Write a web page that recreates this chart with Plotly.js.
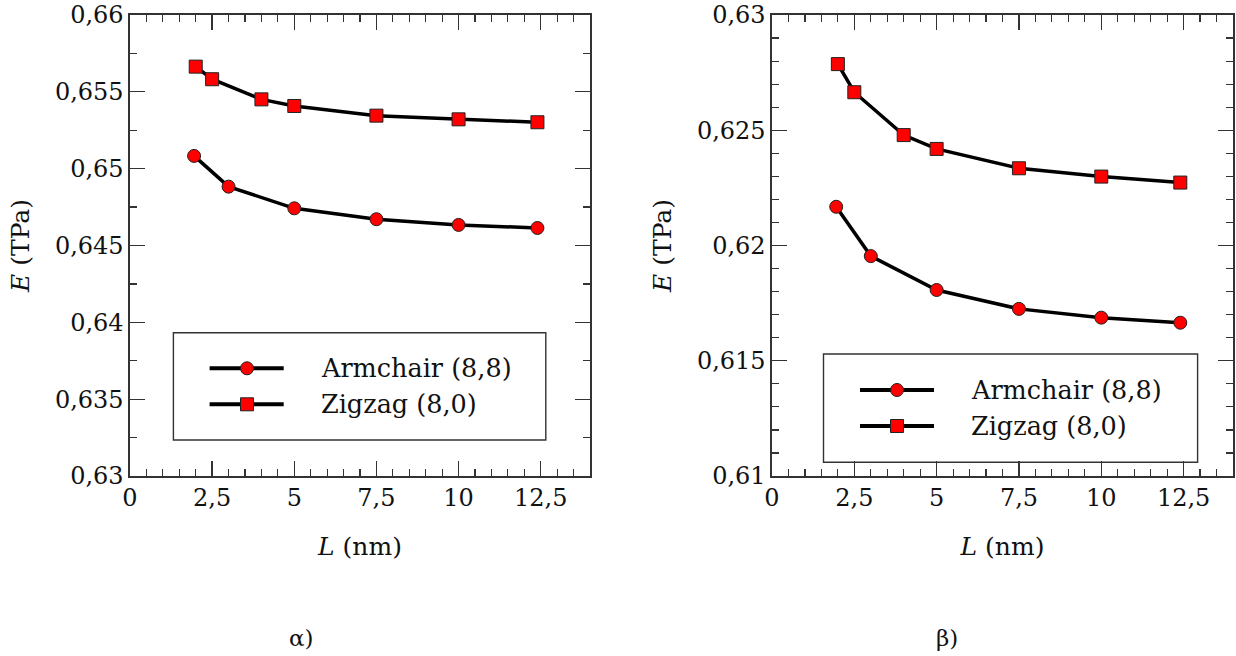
<!DOCTYPE html>
<html>
<head>
<meta charset="utf-8">
<script src="https://cdn.plot.ly/plotly-3.0.1.min.js"></script>
<style>html,body{margin:0;padding:0;background:#fff;}#chart{width:1236px;height:656px;}</style>
</head>
<body>
<div id="chart"></div>
<script>
// ---------- data ----------
const armchairL_a = [1.95, 3, 5, 7.5, 10, 12.4];
const armchairE_a = [0.65083, 0.64883, 0.64742, 0.64671, 0.64634, 0.64614];
const zigzagL_a = [2, 2.5, 4, 5, 7.5, 10, 12.4];
const zigzagE_a = [0.65664, 0.65582, 0.65451, 0.65408, 0.65345, 0.65321, 0.65302];

const armchairL_b = [1.95, 3, 5, 7.5, 10, 12.4];
const armchairE_b = [0.62168, 0.61954, 0.61807, 0.61725, 0.61687, 0.61665];
const zigzagL_b = [2, 2.5, 4, 5, 7.5, 10, 12.4];
const zigzagE_b = [0.62787, 0.62665, 0.62479, 0.62419, 0.62335, 0.62299, 0.62273];

const xTickVals = [0, 2.5, 5, 7.5, 10, 12.5];
const xTickText = ['0', '2,5', '5', '7,5', '10', '12,5'];
const yTickVals_a = [0.63, 0.635, 0.64, 0.645, 0.65, 0.655, 0.66];
const yTickText_a = ['0,63', '0,635', '0,64', '0,645', '0,65', '0,655', '0,66'];
const yTickVals_b = [0.61, 0.615, 0.62, 0.625, 0.63];
const yTickText_b = ['0,61', '0,615', '0,62', '0,625', '0,63'];

const seriesNames = ['Armchair (8,8)', 'Zigzag (8,0)'];
const captions = ['α)', 'β)'];

// ---------- layout helpers ----------
const W = 1236, H = 656;
const px = v => v / W;
const py = v => (H - v) / H;
const FONT = 'DejaVu Serif';
const EPS = 1e-7;

function mk(x, y, symbol, xa, ya, name) {
  return {
    x: x, y: y, xaxis: xa, yaxis: ya, name: name, type: 'scatter', mode: 'lines+markers',
    showlegend: false,
    line: {color: '#000', width: 3.5},
    marker: {symbol: symbol, color: '#ff0000', size: 13,
             line: {color: '#222', width: 1}}
  };
}

const traces = [
  mk(armchairL_a, armchairE_a, 'circle', 'x', 'y', seriesNames[0]),
  mk(zigzagL_a, zigzagE_a, 'square', 'x', 'y', seriesNames[1]),
  mk(armchairL_b, armchairE_b, 'circle', 'x2', 'y2', seriesNames[0]),
  mk(zigzagL_b, zigzagE_b, 'square', 'x2', 'y2', seriesNames[1])
];

function xax(domain, anchor) {
  return {
    domain: domain, anchor: anchor, range: [0, 14], automargin: false,
    tickvals: xTickVals, ticktext: xTickText, ticklabeloverflow: 'allow',
    ticks: 'inside', ticklen: 15, tickwidth: 1.3, tickcolor: '#333',
    minor: {dtick: 0.5, tick0: 0, ticks: 'inside', ticklen: 7, tickwidth: 1.2, tickcolor: '#333'},
    showline: true, linecolor: '#333', linewidth: 1.6, mirror: 'allticks',
    showgrid: false, zeroline: false,
    tickfont: {family: FONT, size: 24, color: '#111'},
    title: {text: '<i>L</i> (nm)', font: {family: FONT, size: 25, color: '#111'}, standoff: 26}
  };
}
function yax(domain, anchor, range, tv, tt, minorStep) {
  return {
    domain: domain, anchor: anchor, range: [range[0] - EPS, range[1] + EPS], automargin: false,
    tickvals: tv, ticktext: tt, ticklabeloverflow: 'allow',
    ticks: 'inside', ticklen: 15, tickwidth: 1.3, tickcolor: '#333',
    minor: {dtick: minorStep, tick0: range[0], ticks: 'inside', ticklen: 7, tickwidth: 1.2, tickcolor: '#333'},
    showline: true, linecolor: '#333', linewidth: 1.6, mirror: 'allticks',
    showgrid: false, zeroline: false,
    tickfont: {family: FONT, size: 24, color: '#111'},
    title: {text: '<i>E</i> (TPa)', font: {family: FONT, size: 25, color: '#111'}, standoff: 18}
  };
}

const yDom = [py(476), py(15)];

// manual legends
function legendParts(box, lineX, markX, textX, rowY) {
  const shapes = [], ann = [];
  shapes.push({type: 'rect', xref: 'paper', yref: 'paper',
    x0: px(box[0]), x1: px(box[1]), y0: py(box[3]), y1: py(box[2]),
    line: {color: '#333', width: 1.4}, fillcolor: 'rgba(255,255,255,0)'});
  const syms = ['circle', 'rect'];
  for (let i = 0; i < 2; i++) {
    shapes.push({type: 'line', xref: 'paper', yref: 'paper',
      x0: px(lineX[0]), x1: px(lineX[1]), y0: py(rowY[i]), y1: py(rowY[i]),
      line: {color: '#000', width: 4}});
    shapes.push({type: syms[i], xref: 'paper', yref: 'paper',
      xsizemode: 'pixel', ysizemode: 'pixel',
      xanchor: px(markX), yanchor: py(rowY[i]),
      x0: -6.5, x1: 6.5, y0: -6.5, y1: 6.5,
      fillcolor: '#ff0000', line: {color: '#222', width: 1}});
    ann.push({xref: 'paper', yref: 'paper', x: px(textX), y: py(rowY[i]),
      xanchor: 'left', yanchor: 'middle', showarrow: false, text: seriesNames[i],
      font: {family: FONT, size: 25.5, color: '#111'}});
  }
  return {shapes, ann};
}

const la = legendParts([173.4, 545.8, 332.7, 440], [209.6, 283.7], 247, 319, [368.3, 404.3]);
const lb = legendParts([823.5, 1197.6, 354, 462.3], [860, 934], 897, 969, [390, 426]);

const annotations = la.ann.concat(lb.ann).concat([
  {xref: 'paper', yref: 'paper', x: px(301), y: py(638), xanchor: 'center', yanchor: 'middle',
   showarrow: false, text: captions[0], font: {family: FONT, size: 23, color: '#111'}},
  {xref: 'paper', yref: 'paper', x: px(947), y: py(638), xanchor: 'center', yanchor: 'middle',
   showarrow: false, text: captions[1], font: {family: FONT, size: 23, color: '#111'}}
]);

const layout = {
  width: W, height: H,
  margin: {l: 0, r: 0, t: 0, b: 0},
  paper_bgcolor: '#fff', plot_bgcolor: '#fff',
  showlegend: false,
  xaxis: xax([px(130), px(590)], 'y'),
  yaxis: yax(yDom, 'x', [0.63, 0.66], yTickVals_a, yTickText_a, 0.0025),
  xaxis2: xax([px(772), px(1233)], 'y2'),
  yaxis2: yax(yDom, 'x2', [0.61, 0.63], yTickVals_b, yTickText_b, 0.001),
  shapes: la.shapes.concat(lb.shapes),
  annotations: annotations
};

Plotly.newPlot('chart', traces, layout, {displayModeBar: false, staticPlot: true});
</script>
</body>
</html>
